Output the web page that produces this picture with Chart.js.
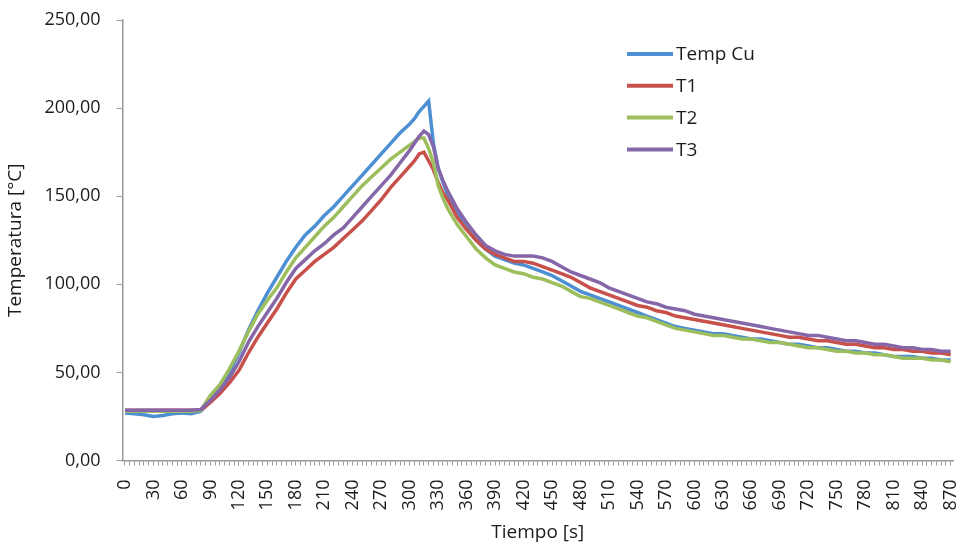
<!DOCTYPE html>
<html>
<head>
<meta charset="utf-8">
<script src="https://cdn.jsdelivr.net/npm/chart.js@4.4.1/dist/chart.umd.min.js"></script>
<style>
  html, body { margin: 0; padding: 0; background: #fff; }
  #wrap { width: 963px; height: 546px; position: relative; }
</style>
</head>
<body>
<div id="wrap"><canvas id="chart"></canvas></div>
<script>
// Temperatura vs Tiempo — 4 curves (Temp Cu, T1, T2, T3)

const seriesLabels = ['Temp Cu', 'T1', 'T2', 'T3'];
const seriesColors = ['#4d8fd3', '#c8504b', '#9dbe5c', '#8566a8'];

// time [s] of each sample (finer around the peak)
const times = [
  0, 10, 20, 30, 40, 50, 60, 70, 80, 90, 100, 110, 120, 130, 140, 150, 160, 170, 180, 190,
  200, 210, 220, 230, 240, 250, 260, 270, 280, 290, 300,
  305, 310, 315, 320, 325, 330, 335, 340,
  350, 360, 370, 380, 390, 400, 410, 420, 430, 440, 450, 460, 470, 480, 490, 500, 510, 520,
  530, 540, 550, 560, 570, 580, 590, 600, 610, 620, 630, 640, 650, 660, 670, 680, 690, 700,
  710, 720, 730, 740, 750, 760, 770, 780, 790, 800, 810, 820, 830, 840, 850, 860, 870
];

const tempCu = [
  27, 26.5, 26, 25, 25.5, 26.5, 27, 26.5, 28, 34, 41, 50, 61, 74, 85, 95, 104, 113, 121, 128,
  133, 139, 144, 150, 156, 162, 168, 174, 180, 186, 191,
  194, 198, 201, 204, 180, 166, 158, 151,
  140, 132, 125, 120, 116, 114, 112, 111, 109, 107, 105, 102, 99, 96, 94, 92, 90, 88,
  86, 84, 82, 80, 78, 76, 75, 74, 73, 72, 72, 71, 70, 69, 69, 68, 67, 66,
  66, 65, 64, 64, 63, 62, 62, 61, 61, 60, 59, 59, 59, 58, 58, 57, 57
];

const t1 = [
  28.5, 28.5, 28.5, 28.5, 28.5, 28.5, 28.5, 28.5, 28.5, 33, 38, 44, 51, 61, 70, 78, 86, 95, 103, 108,
  113, 117, 121, 126, 131, 136, 142, 148, 155, 161, 167,
  170, 174, 175, 170, 165, 158, 152, 148,
  138, 131, 125, 120, 117, 115, 113, 113, 112, 110, 108, 106, 104, 101, 98, 96, 94, 92,
  90, 88, 87, 85, 84, 82, 81, 80, 79, 78, 77, 76, 75, 74, 73, 72, 71, 70,
  70, 69, 68, 68, 67, 66, 66, 65, 64, 64, 63, 63, 62, 62, 61, 61, 60
];

const t2 = [
  28, 28, 28, 28, 28, 28, 28, 28, 28.5, 37, 43, 52, 62, 73, 83, 91, 98, 107, 115, 121,
  127, 133, 138, 144, 150, 156, 161, 166, 171, 175, 179,
  181, 183, 183, 177, 169, 156, 149, 143,
  134, 127, 120, 115, 111, 109, 107, 106, 104, 103, 101, 99, 96, 93, 92, 90, 88, 86,
  84, 82, 81, 79, 77, 75, 74, 73, 72, 71, 71, 70, 69, 69, 68, 67, 67, 66,
  65, 64, 64, 63, 62, 62, 61, 61, 60, 60, 59, 58, 58, 58, 57, 57, 56
];

const t3 = [
  28.5, 28.5, 28.5, 28.5, 28.5, 28.5, 28.5, 28.5, 29, 34, 40, 47, 56, 67, 76, 84, 92, 101, 109, 114,
  119, 123, 128, 132, 138, 144, 150, 156, 162, 169, 176,
  180, 184, 187, 185, 178, 166, 159, 153,
  143, 135, 128, 122, 119, 117, 116, 116, 116, 115, 113, 110, 107, 105, 103, 101, 98, 96,
  94, 92, 90, 89, 87, 86, 85, 83, 82, 81, 80, 79, 78, 77, 76, 75, 74, 73,
  72, 71, 71, 70, 69, 68, 68, 67, 66, 66, 65, 64, 64, 63, 63, 62, 62
];

const seriesValues = [tempCu, t1, t2, t3];

// axis settings
const xMax = 870;
const xTickStep = 5;     // minor tick marks
const xLabelStep = 30;   // labelled ticks
const yMax = 250;
const yStep = 50;

const axisGray = '#9a9a9a';
const textColor = '#1c1c1c';
Chart.defaults.font.family = "'Open Sans', sans-serif";
Chart.defaults.color = textColor;

// legend drawn inside the plot area, like the original
const insideLegend = {
  id: 'insideLegend',
  afterDraw(chart, args, opts) {
    const { ctx } = chart;
    ctx.save();
    ctx.font = "19px 'Open Sans', sans-serif";
    ctx.textBaseline = 'middle';
    ctx.fillStyle = textColor;
    chart.data.datasets.forEach((ds, i) => {
      const y = opts.top + i * opts.rowGap;
      ctx.strokeStyle = ds.borderColor;
      ctx.lineWidth = 4;
      ctx.beginPath();
      ctx.moveTo(opts.left, y);
      ctx.lineTo(opts.left + opts.lineLen, y);
      ctx.stroke();
      ctx.fillText(ds.label, opts.left + opts.lineLen + 3, y + 1);
    });
    ctx.restore();
  }
};

const ctx = document.getElementById('chart').getContext('2d');
const chart = new Chart(ctx, {
  type: 'line',
  data: {
    datasets: seriesLabels.map((label, s) => ({
      label,
      data: times.map((t, i) => ({ x: t, y: seriesValues[s][i] })),
      borderColor: seriesColors[s],
      backgroundColor: seriesColors[s],
      borderWidth: 3.5,
      pointRadius: 0,
      tension: 0,
      fill: false,
      order: seriesLabels.length - s   // last series drawn on top
    }))
  },
  options: {
    responsive: true,
    maintainAspectRatio: false,
    animation: false,
    layout: { padding: { top: 20, right: 10, bottom: 0, left: 0 } },
    plugins: {
      legend: { display: false },
      tooltip: { enabled: false },
      insideLegend: { left: 627, top: 54, rowGap: 31.8, lineLen: 46 }
    },
    scales: {
      x: {
        type: 'linear',
        min: -xTickStep / 2,
        max: xMax + xTickStep / 2,
        afterBuildTicks: scale => {
          const ticks = [];
          for (let v = 0; v <= xMax; v += xTickStep) ticks.push({ value: v });
          scale.ticks = ticks;
        },
        afterFit: scale => {
          scale.height = 85.5;
          scale.paddingLeft = 0;
          scale.paddingRight = 0;
        },
        border: { color: axisGray, width: 1.5 },
        grid: { drawOnChartArea: false, drawTicks: true, tickLength: 5, color: axisGray, lineWidth: 1 },
        ticks: {
          autoSkip: false,
          minRotation: 90,
          maxRotation: 90,
          padding: 14,
          font: { size: 18 },
          callback: v => (v % xLabelStep === 0 ? String(v) : '')
        },
        title: {
          display: true,
          text: 'Tiempo [s]',
          font: { size: 19 },
          padding: { top: 0, bottom: 2 }
        }
      },
      y: {
        min: 0,
        max: yMax,
        afterFit: scale => {
          scale.width = 122.6;
          scale.paddingTop = 0;
          scale.paddingBottom = 0;
        },
        border: { color: axisGray, width: 1.5 },
        grid: { drawOnChartArea: false, drawTicks: true, tickLength: 6, color: axisGray },
        ticks: {
          stepSize: yStep,
          padding: 16,
          font: { size: 18 },
          callback: v => v.toFixed(2).replace('.', ',')
        },
        title: {
          display: true,
          text: 'Temperatura [°C]',
          font: { size: 19 },
          padding: { top: 4, bottom: 4 }
        }
      }
    }
  },
  plugins: [insideLegend]
});
</script>
</body>
</html>
